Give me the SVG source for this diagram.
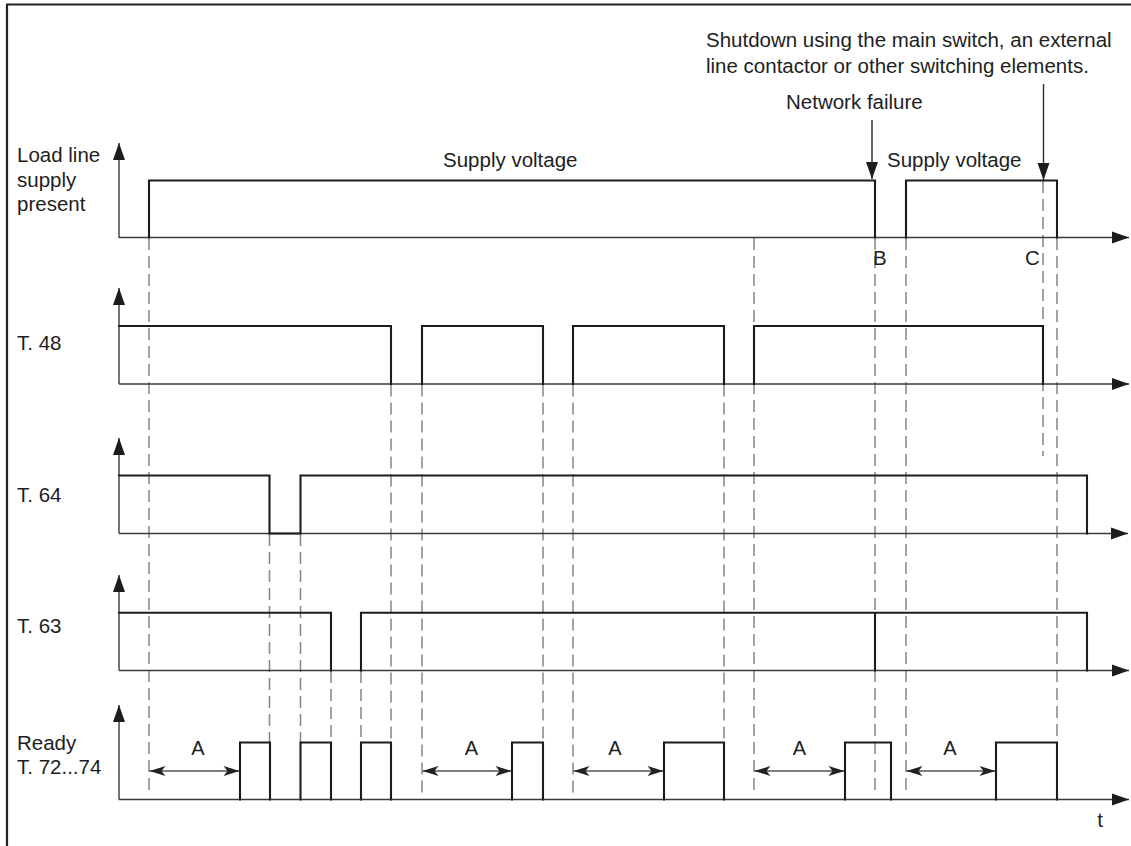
<svg xmlns="http://www.w3.org/2000/svg" width="1131" height="846" viewBox="0 0 1131 846">
<style>
text{font-family:"Liberation Sans",Arial,Helvetica,sans-serif;font-size:20.5px;fill:#1e1e1e}
.axis{stroke:#3a3a3a;stroke-width:1.4;fill:none}
.sig{stroke:#1c1c1c;stroke-width:2.1;fill:none;stroke-linecap:square}
.dash{stroke:#858585;stroke-width:1.5;stroke-dasharray:12 6;fill:none}
.dim{stroke:#555;stroke-width:1.3;fill:none}
.ptr{stroke:#2a2a2a;stroke-width:1.4;fill:none}
.a{font-size:20px;text-anchor:middle}
</style>
<defs>
<marker id="ah" markerUnits="userSpaceOnUse" markerWidth="18" markerHeight="13" refX="17" refY="6" orient="auto" overflow="visible">
<path d="M0,0 L17,6 L0,12 z" fill="#1c1c1c"/>
</marker>
<marker id="dh" markerUnits="userSpaceOnUse" markerWidth="17" markerHeight="11" refX="16" refY="5" orient="auto-start-reverse" overflow="visible">
<path d="M0,0 L16,5 L0,10 L4,5 z" fill="#222"/>
</marker>
</defs>
<rect width="1131" height="846" fill="#fff"/>
<path d="M7,846 V4.5 H1131" stroke="#222" stroke-width="2.2" fill="none"/>

<g id="connectors">
<g id="dashed-guides">
<line class="dash" x1="149" y1="238" x2="149" y2="793"/>
<line class="dash" x1="269.5" y1="534" x2="269.5" y2="742.5"/>
<line class="dash" x1="300.5" y1="534" x2="300.5" y2="742.5"/>
<line class="dash" x1="331" y1="671" x2="331" y2="742.5"/>
<line class="dash" x1="361" y1="671" x2="361" y2="742.5"/>
<line class="dash" x1="391" y1="384.5" x2="391" y2="742.5"/>
<line class="dash" x1="422" y1="384.5" x2="422" y2="795"/>
<line class="dash" x1="543" y1="384.5" x2="543" y2="742.5"/>
<line class="dash" x1="573" y1="384.5" x2="573" y2="795"/>
<line class="dash" x1="724" y1="384.5" x2="724" y2="742.5"/>
<line class="dash" x1="754" y1="238" x2="754" y2="795"/>
<line class="dash" x1="875" y1="238" x2="875" y2="793"/>
<line class="dash" x1="906" y1="238" x2="906" y2="793"/>
<line class="dash" x1="1043" y1="181" x2="1043" y2="456"/>
<line class="dash" x1="1057" y1="238" x2="1057" y2="742.5"/>
</g>
<g id="pointers">
<line class="ptr" x1="872" y1="120" x2="872" y2="179" marker-end="url(#ah)"/>
<line class="ptr" x1="1043.5" y1="84" x2="1043.5" y2="180" marker-end="url(#ah)"/>
</g>
<g id="durations-A">
<line class="dim" x1="149.5" y1="771" x2="239.5" y2="771" marker-start="url(#dh)" marker-end="url(#dh)"/>
<line class="dim" x1="422.5" y1="771" x2="511.5" y2="771" marker-start="url(#dh)" marker-end="url(#dh)"/>
<line class="dim" x1="573.5" y1="771" x2="663.5" y2="771" marker-start="url(#dh)" marker-end="url(#dh)"/>
<line class="dim" x1="754.5" y1="771" x2="844.5" y2="771" marker-start="url(#dh)" marker-end="url(#dh)"/>
<line class="dim" x1="906.5" y1="771" x2="995.5" y2="771" marker-start="url(#dh)" marker-end="url(#dh)"/>
</g>
</g>

<g id="row-load-line">
<line class="axis" x1="119" y1="238" x2="119" y2="143" marker-end="url(#ah)"/>
<line class="axis" x1="119" y1="237.5" x2="1129" y2="237.5" marker-end="url(#ah)"/>
<path class="sig" d="M149,237.5 V180.5 H875 V237.5 M906,237.5 V180.5 H1057 V237.5"/>
<text x="17" y="162">Load line</text>
<text x="17" y="186.5">supply</text>
<text x="17" y="211">present</text>
<text x="443" y="167">Supply voltage</text>
<text x="887" y="167">Supply voltage</text>
<text x="873" y="265">B</text>
<text x="1025" y="265">C</text>
</g>

<g id="row-t48">
<line class="axis" x1="119" y1="384" x2="119" y2="288" marker-end="url(#ah)"/>
<line class="axis" x1="119" y1="384" x2="1129" y2="384" marker-end="url(#ah)"/>
<path class="sig" d="M119,326 H391 V384 M422,384 V326 H543 V384 M573,384 V326 H724 V384 M754,384 V326 H1043 V384"/>
<text x="17" y="350">T. 48</text>
</g>

<g id="row-t64">
<line class="axis" x1="119" y1="533.5" x2="119" y2="438" marker-end="url(#ah)"/>
<line class="axis" x1="119" y1="533.5" x2="1128" y2="533.5" marker-end="url(#ah)"/>
<path class="sig" d="M119,475.5 H269.5 V533.5 H300.5 V475.5 H1087 V533.5"/>
<text x="17" y="501.5">T. 64</text>
</g>

<g id="row-t63">
<line class="axis" x1="119" y1="670.5" x2="119" y2="575" marker-end="url(#ah)"/>
<line class="axis" x1="119" y1="670.5" x2="1129" y2="670.5" marker-end="url(#ah)"/>
<path class="sig" d="M119,612.7 H331 V670.5 M361,670.5 V612.7 H1087 V670.5 M875,612.7 V670.5"/>
<text x="17" y="632.5">T. 63</text>
</g>

<g id="row-ready">
<line class="axis" x1="119" y1="799.5" x2="119" y2="705" marker-end="url(#ah)"/>
<line class="axis" x1="119" y1="799.5" x2="1129" y2="799.5" marker-end="url(#ah)"/>
<path class="sig" d="M240,799.5 V742.5 H270 V799.5 M300.5,799.5 V742.5 H331 V799.5 M361,799.5 V742.5 H391 V799.5 M512,799.5 V742.5 H543 V799.5 M664,799.5 V742.5 H724 V799.5 M845,799.5 V742.5 H891 V799.5 M996,799.5 V742.5 H1057 V799.5"/>
<text x="17" y="749.5">Ready</text>
<text x="17" y="773.5">T. 72...74</text>
<text class="a" x="198" y="755">A</text>
<text class="a" x="471.5" y="755">A</text>
<text class="a" x="615" y="755">A</text>
<text class="a" x="799.5" y="755">A</text>
<text class="a" x="950" y="755">A</text>
<text x="1100" y="827" text-anchor="middle">t</text>
</g>

<g id="annotations">
<text x="706" y="47">Shutdown using the main switch, an external</text>
<text x="706" y="72.5">line contactor or other switching elements.</text>
<text x="786" y="108.7">Network failure</text>
</g>
</svg>
